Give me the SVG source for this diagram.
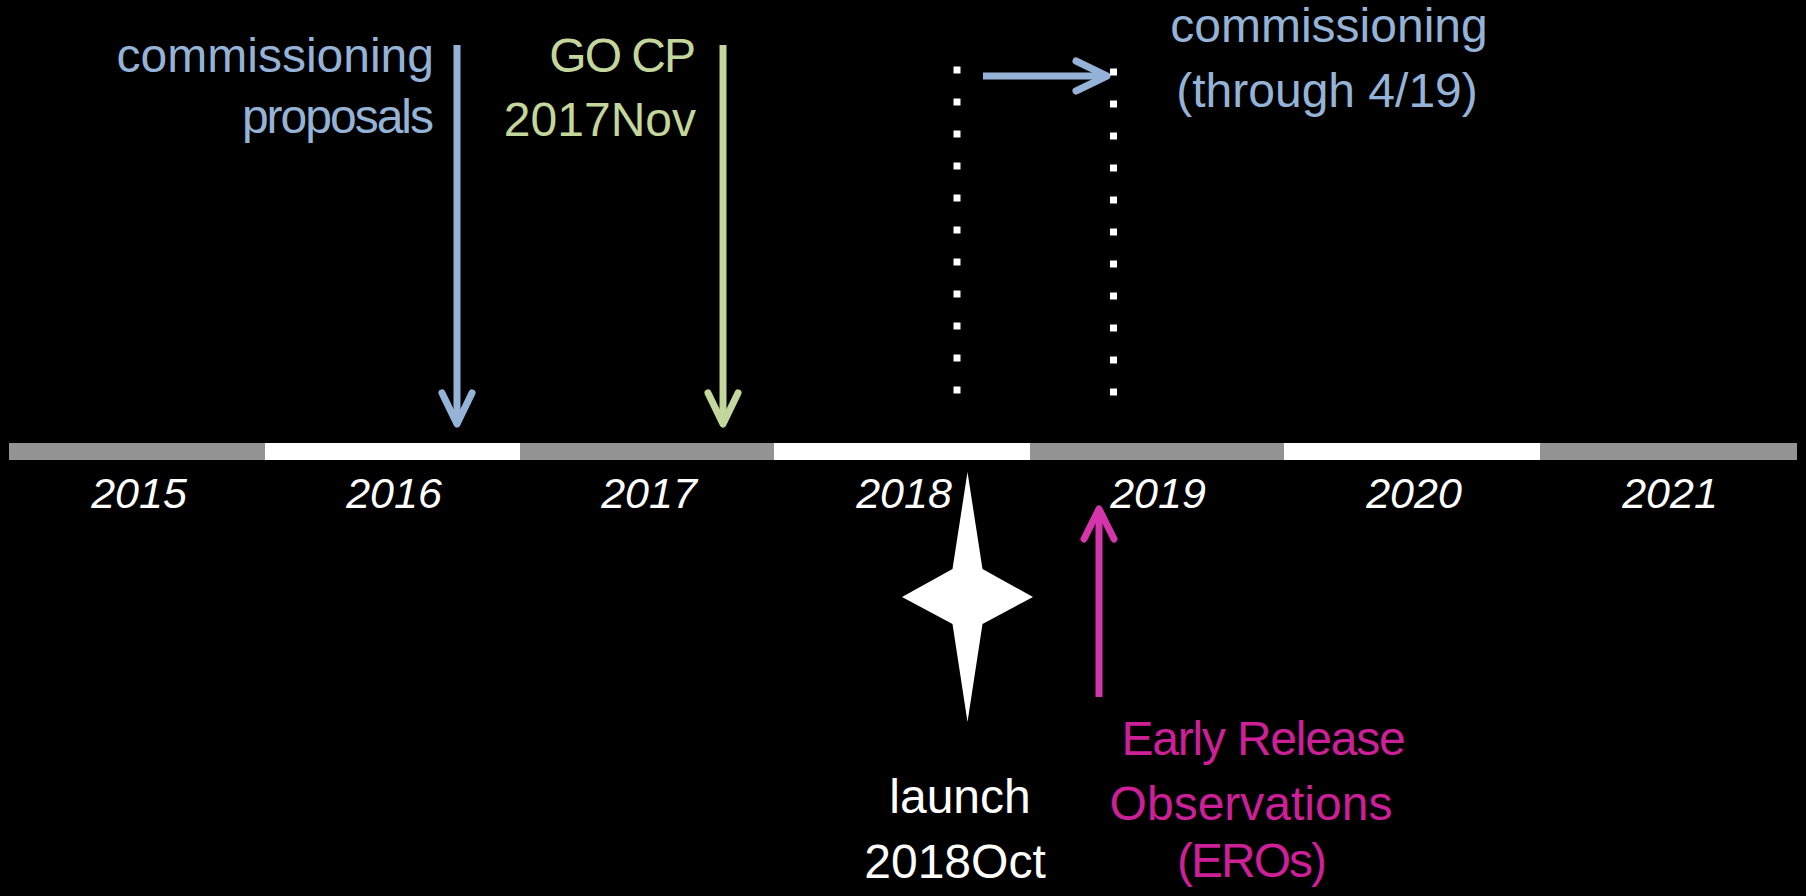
<svg xmlns="http://www.w3.org/2000/svg" width="1806" height="896" viewBox="0 0 1806 896">
  <style>
    .lbl { font-family: "Liberation Sans", Arial, sans-serif; font-size: 48px; }
    .yr { font-family: "Liberation Sans", Arial, sans-serif; font-size: 43px; font-style: italic; fill: #ffffff; text-anchor: middle; }
    .blue { fill: #95b3d7; }
    .green { fill: #c3d69b; }
    .mag { fill: #cc1f98; }
    .white { fill: #ffffff; }
    .seg-g { fill: #939393; }
    .seg-w { fill: #ffffff; }
    .shaft { fill: none; stroke-width: 7; stroke-linecap: butt; }
    .head { fill: none; stroke-width: 7; stroke-linecap: round; stroke-linejoin: round; }
    .dots { stroke: #ffffff; stroke-width: 7; stroke-dasharray: 7 25; fill: none; }
  </style>
  <rect x="0" y="0" width="1806" height="896" fill="#000000"/>

  <g id="timeline">
    <rect class="seg-g" x="9" y="443" width="256" height="17"/>
    <rect class="seg-w" x="265" y="443" width="255" height="17"/>
    <rect class="seg-g" x="520" y="443" width="254" height="17"/>
    <rect class="seg-w" x="774" y="443" width="256" height="17"/>
    <rect class="seg-g" x="1030" y="443" width="254" height="17"/>
    <rect class="seg-w" x="1284" y="443" width="256" height="17"/>
    <rect class="seg-g" x="1540" y="443" width="257" height="17"/>
  </g>

  <g id="year-labels">
    <text class="yr" x="139" y="508">2015</text>
    <text class="yr" x="394" y="508">2016</text>
    <text class="yr" x="649" y="508">2017</text>
    <text class="yr" x="904" y="508">2018</text>
    <text class="yr" x="1158" y="508">2019</text>
    <text class="yr" x="1414" y="508">2020</text>
    <text class="yr" x="1670" y="508">2021</text>
  </g>

  <g id="connectors">
    <g id="arrow-commissioning-proposals" stroke="#95b3d7">
      <line class="shaft" x1="457" y1="45" x2="457" y2="421"/>
      <polyline class="head" points="442,393 457,424 472,393"/>
    </g>
    <g id="arrow-go-cp" stroke="#c3d69b">
      <line class="shaft" x1="723" y1="45" x2="723" y2="421"/>
      <polyline class="head" points="708,393 723,424 738,393"/>
    </g>
    <g id="arrow-commissioning-period" stroke="#95b3d7">
      <line class="shaft" x1="983" y1="76" x2="1104" y2="76"/>
      <polyline class="head" points="1076,61 1107,76 1076,91"/>
    </g>
    <g id="arrow-eros" stroke="#d535aa">
      <line class="shaft" x1="1099" y1="697" x2="1099" y2="512"/>
      <polyline class="head" points="1084,539 1099,509 1114,539"/>
    </g>
    <line id="dots-start" class="dots" x1="957" y1="66.5" x2="957" y2="394"/>
    <line id="dots-end" class="dots" x1="1113.5" y1="68.5" x2="1113.5" y2="396"/>
  </g>

  <g id="label-commissioning-proposals" class="lbl blue" text-anchor="end">
    <text x="434" y="72">commissioning</text>
    <text x="432" y="133" letter-spacing="-2">proposals</text>
  </g>

  <g id="label-go-cp" class="lbl green" text-anchor="end">
    <text x="694" y="72" letter-spacing="-2">GO CP</text>
    <text x="696" y="136">2017Nov</text>
  </g>

  <g id="label-commissioning-period" class="lbl blue" text-anchor="middle">
    <text x="1329" y="42">commissioning</text>
    <text x="1327" y="107">(through 4/19)</text>
  </g>

  <g id="launch">
    <polygon class="white" points="967.5,472 982.5,569 1033,597 982.5,624 967.5,722 952.5,624 902,597 952.5,569"/>
    <g class="lbl white" text-anchor="middle">
      <text x="960" y="813">launch</text>
      <text x="955" y="878">2018Oct</text>
    </g>
  </g>

  <g id="label-eros" class="lbl mag" text-anchor="middle">
    <text x="1263" y="755" letter-spacing="-1.2">Early Release</text>
    <text x="1251" y="820">Observations</text>
    <text x="1251" y="877" letter-spacing="-2">(EROs)</text>
  </g>
</svg>
